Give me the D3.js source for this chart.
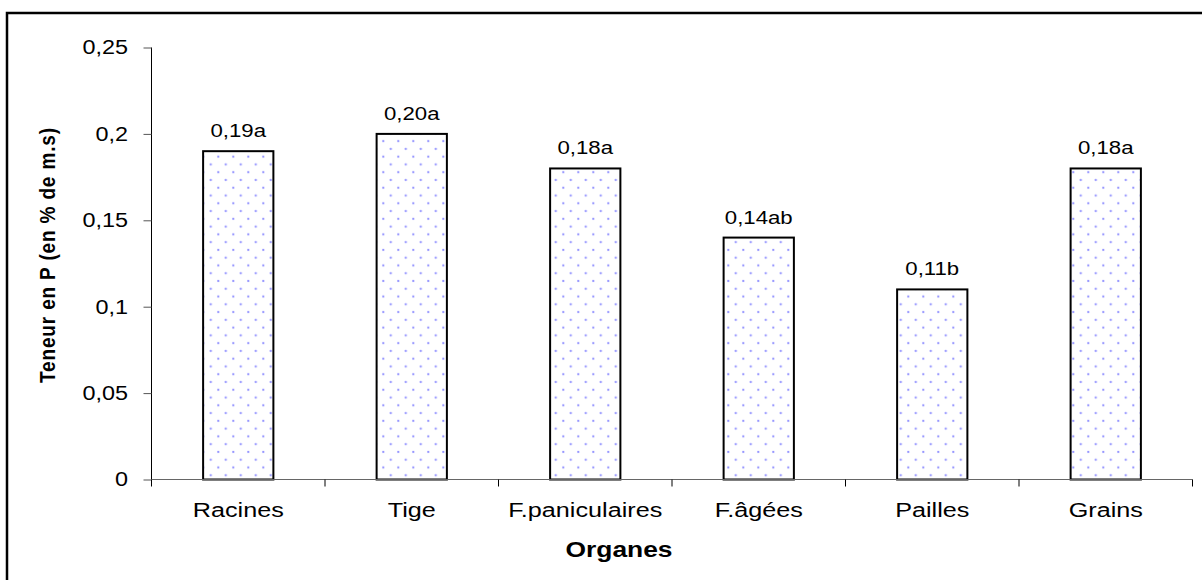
<!DOCTYPE html>
<html>
<head>
<meta charset="utf-8">
<script src="https://cdn.jsdelivr.net/npm/d3@7"></script>
<style>
  body { margin: 0; background: #fff; }
  text { font-family: "Liberation Sans", Arial, sans-serif; fill: #000; }
</style>
</head>
<body>
<svg id="chart" width="1202" height="580"></svg>
<script>
const categories = ["Racines", "Tige", "F.paniculaires", "F.âgées", "Pailles", "Grains"];
const values = [0.19, 0.20, 0.18, 0.14, 0.11, 0.18];
const valueLabels = ["0,19a", "0,20a", "0,18a", "0,14ab", "0,11b", "0,18a"];
const yTicks = [0, 0.05, 0.1, 0.15, 0.2, 0.25];
const yTickLabels = ["0", "0,05", "0,1", "0,15", "0,2", "0,25"];
const yTitle = "Teneur en P (en % de m.s)";
const xTitle = "Organes";

(function () {
const svg = d3.select("#chart");
const pLeft = 151.5, pRight = 1192.5, pTop = 47.5, pBottom = 479.5;
const SX = 1.2;

// outer frame (extends beyond right/bottom edge)
svg.append("rect").attr("x", 7).attr("y", 13).attr("width", 1260).attr("height", 640)
  .attr("fill", "none").attr("stroke", "#000").attr("stroke-width", 2.5);

const x = d3.scaleBand().domain(categories).range([pLeft, pRight]).paddingInner(0).paddingOuter(0);
const y = d3.scaleLinear().domain([0, 0.25]).range([pBottom, pTop]);

// dot pattern
const defs = svg.append("defs");
const pat = defs.append("pattern").attr("id", "dots").attr("patternUnits", "userSpaceOnUse")
  .attr("x", 8.3).attr("y", 1.3).attr("width", 15).attr("height", 15.54);
pat.append("rect").attr("width", 15).attr("height", 15.54).attr("fill", "#fff");
[[0, 0], [7.5, 7.77], [15, 0], [0, 15.54], [15, 15.54]].forEach(([cx, cy]) => {
  pat.append("circle").attr("cx", cx).attr("cy", cy).attr("r", 1.1).attr("fill", "#7a7aff").attr("opacity", 0.85);
});

// bars
const bw = x.bandwidth() * 0.405;
svg.append("g").selectAll("rect").data(values).join("rect")
  .attr("x", (d, i) => x(categories[i]) + x.bandwidth() / 2 - bw / 2)
  .attr("y", d => y(d))
  .attr("width", bw)
  .attr("height", d => pBottom - y(d))
  .attr("fill", "url(#dots)")
  .attr("stroke", "#000").attr("stroke-width", 2);

// y axis
const yAxis = d3.axisLeft(y).tickValues(yTicks).tickSize(8).tickFormat("");
const gy = svg.append("g").attr("transform", `translate(${pLeft},0)`).call(yAxis);
gy.select(".domain").attr("stroke", "#000").attr("d", `M-0,${pTop}V${pBottom}`);
gy.selectAll(".tick line").attr("stroke", "#555");

// x axis
const xAxis = d3.axisBottom(x).tickSize(0).tickFormat("");
const gx = svg.append("g").attr("transform", `translate(0,${pBottom})`).call(xAxis);
gx.select(".domain").attr("stroke", "#666").attr("d", `M${pLeft},0H${pRight}`);
const bounds = categories.map(c => x(c)).concat([pRight]);
gx.selectAll(".bt").data(bounds).join("line").attr("class", "bt")
  .attr("x1", d => d).attr("x2", d => d).attr("y1", 0).attr("y2", 7).attr("stroke", "#000");

// y tick labels
yTicks.forEach((t, i) => {
  svg.append("g").attr("transform", `translate(128,${y(t) + 6.8}) scale(${SX},1)`)
    .append("text").attr("text-anchor", "end").attr("font-size", 19.5).text(yTickLabels[i]);
});

// category labels
categories.forEach(c => {
  svg.append("g").attr("transform", `translate(${x(c) + x.bandwidth() / 2},517) scale(${SX},1)`)
    .append("text").attr("text-anchor", "middle").attr("font-size", 21).text(c);
});

// value labels
values.forEach((v, i) => {
  svg.append("g").attr("transform", `translate(${x(categories[i]) + x.bandwidth() / 2},${y(v) - 14}) scale(${SX},1)`)
    .append("text").attr("text-anchor", "middle").attr("font-size", 18.5).text(valueLabels[i]);
});

// x title
svg.append("g").attr("transform", `translate(619,557) scale(${SX},1)`)
  .append("text").attr("text-anchor", "middle").attr("font-size", 22).attr("font-weight", "bold").text(xTitle);

// y title (rotated; the original is stretched across its thickness)
svg.append("g").attr("transform", "translate(55,255.5) rotate(-90) scale(1,1.15)")
  .append("text").attr("text-anchor", "middle").attr("font-size", 19).attr("font-weight", "bold")
  .attr("textLength", 255).attr("lengthAdjust", "spacing").text(yTitle);
})();
</script>
</body>
</html>
